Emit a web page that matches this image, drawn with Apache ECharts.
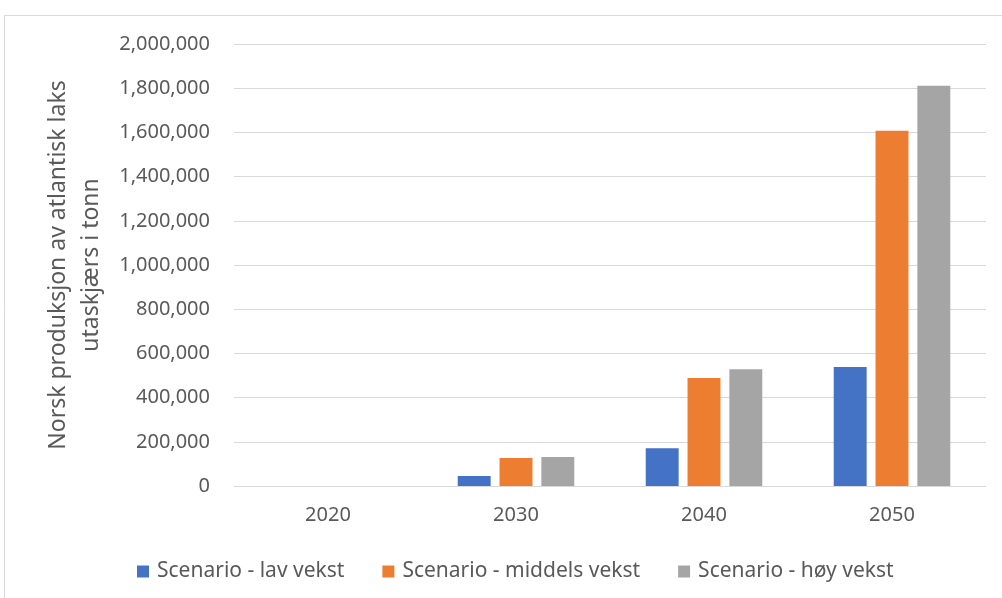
<!DOCTYPE html>
<html>
<head>
<meta charset="utf-8">
<script src="https://cdn.jsdelivr.net/npm/echarts@6/dist/echarts.min.js"></script>
<style>
  html, body { margin: 0; padding: 0; background: #fff; }
  #chart { width: 1002px; height: 598px; }
</style>
</head>
<body>
<div id="chart"></div>
<script>
// Norwegian production of Atlantic salmon offshore, tonnes, per scenario
const years = ['2020', '2030', '2040', '2050'];
const lavVekst = [0, 45000, 171000, 538000];
const middelsVekst = [0, 127000, 489000, 1608000];
const hoyVekst = [0, 131000, 528000, 1811000];
const seriesNames = ['Scenario - lav vekst', 'Scenario - middels vekst', 'Scenario - høy vekst'];
const colors = ['#4472c4', '#ed7d31', '#a5a5a5'];

const font = 'Noto Sans, sans-serif';
const textColor = '#595959';

const chart = echarts.init(document.getElementById('chart'));
chart.setOption({
  animation: false,
  color: colors,
  graphic: [{
    type: 'rect',
    shape: { x: 4.5, y: 15.5, width: 1010, height: 600 },
    style: { fill: 'none', stroke: '#d9d9d9', lineWidth: 1 },
    silent: true
  }],
  grid: { left: 234, right: 16, top: 44, bottom: 112 },
  legend: {
    top: 556,
    left: 132,
    itemWidth: 12,
    itemHeight: 12,
    itemGap: 38,
    icon: 'rect',
    textStyle: { color: textColor, fontFamily: font, fontSize: 21, padding: [0, 0, 0, 3] },
    data: seriesNames
  },
  xAxis: {
    type: 'category',
    data: years,
    axisLine: { lineStyle: { color: '#d9d9d9' } },
    axisTick: { show: false },
    axisLabel: { color: textColor, fontFamily: font, fontSize: 20, margin: 19 }
  },
  yAxis: {
    type: 'value',
    min: 0,
    max: 2000000,
    interval: 200000,
    name: 'Norsk produksjon av atlantisk laks\nutaskjærs i tonn',
    nameLocation: 'middle',
    nameGap: 125,
    nameTextStyle: { color: textColor, fontFamily: font, fontSize: 23, lineHeight: 33 },
    axisLine: { show: false },
    axisTick: { show: false },
    splitLine: { lineStyle: { color: '#d9d9d9', width: 1 } },
    axisLabel: {
      color: textColor, fontFamily: font, fontSize: 20, margin: 24,
      formatter: v => v.toLocaleString('en-US')
    }
  },
  series: [
    { name: seriesNames[0], type: 'bar', data: lavVekst, barGap: '27%', barCategoryGap: '38%' },
    { name: seriesNames[1], type: 'bar', data: middelsVekst, barGap: '27%', barCategoryGap: '38%' },
    { name: seriesNames[2], type: 'bar', data: hoyVekst, barGap: '27%', barCategoryGap: '38%' }
  ]
});
</script>
</body>
</html>
